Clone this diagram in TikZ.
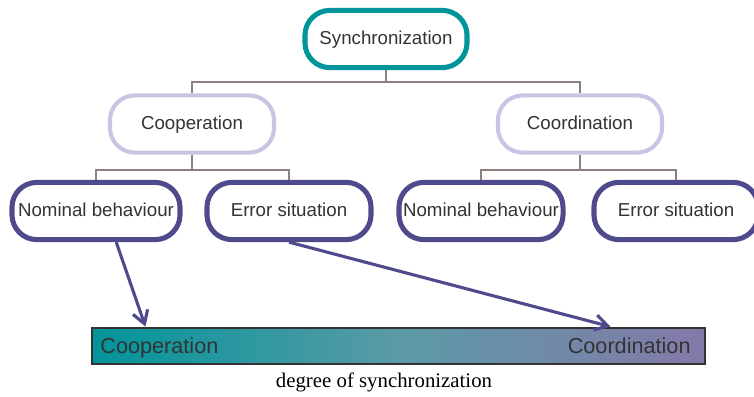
\documentclass[tikz,border=0pt]{standalone}
\usepackage{fontspec}
\setmainfont{Liberation Serif}
\setsansfont{Liberation Sans}
\usepackage{xcolor}
\usepackage{tikz}
\usetikzlibrary{arrows.meta,calc,positioning}
\definecolor{synccol}{HTML}{00959A}
\definecolor{kindcol}{HTML}{C9C5E2}
\definecolor{casecol}{HTML}{4E4A8C}
\definecolor{branchcol}{HTML}{8E807C}
\definecolor{labelcol}{HTML}{333333}
\definecolor{barmid}{HTML}{5B9AA6}
\definecolor{barright}{HTML}{8579A9}

\begin{document}
\begin{tikzpicture}[
    x=0.025cm, y=-0.025cm,
    pill/.style={
        rectangle, rounded corners=0.62cm, fill=white,
        text=labelcol, font=\sffamily\fontsize{13.3}{16}\selectfont,
        text height=0.95em, text depth=0.11em,
        minimum height=1.43cm, inner sep=0},
    top/.style={pill, draw=synccol, line width=3.6pt, minimum width=4.05cm},
    kind/.style={pill, draw=kindcol, line width=2.9pt, minimum width=4.1cm},
    case/.style={pill, draw=casecol, line width=3.6pt, minimum width=4.1cm},
    branch/.style={draw=branchcol, line width=1.4pt},
    barlabel/.style={text=labelcol, font=\sffamily\fontsize{15.4}{18}\selectfont},
    pointer/.style={draw=casecol, line width=2.2pt, -{Straight Barb[length=9pt,width=11pt,line width=2.2pt]}}]
\useasboundingbox (0,0) rectangle (754,396);

% tree
\node[top]  (sync) at (386,39)  {Synchronization};
\node[kind] (coop) at (192,124) {Cooperation};
\node[kind] (coor) at (580,124) {Coordination};
\node[case, minimum width=4.2cm] (nomcoop) at (96,211)  {Nominal behaviour};
\node[case] (errcoop) at (289,211) {Error situation};
\node[case] (nomcoor) at (481,211) {Nominal behaviour};
\node[case] (errcoor) at (676,211) {Error situation};

\path[branch] (sync.south) -- ++(0,12) -| (coop.north);
\path[branch] (sync.south) -- ++(0,12) -| (coor.north);
\path[branch] (coop.south) -- ++(0,15) -| (nomcoop.north);
\path[branch] (coop.south) -- ++(0,15) -| (errcoop.north);
\path[branch] (coor.south) -- ++(0,15) -| (nomcoor.north);
\path[branch] (coor.south) -- ++(0,15) -| (errcoor.north);

% scale
\node[draw=labelcol, line width=1.4pt, left color=synccol, right color=barright, middle color=barmid,
      minimum width=15.3cm, minimum height=0.92cm, inner sep=0] (bar) at (398.5,346) {};
\node[barlabel, anchor=base west] (coopend) at ($(bar.west)+(4,7)$) {Cooperation};
\node[barlabel, anchor=base east] (coorend) at ($(bar.east)+(-10,7)$) {Coordination};
\node[font=\fontsize{14.8}{17}\selectfont] (degree) at (384,382) {degree of synchronization};

\coordinate (tocoop) at ($(bar.north west)+(54,0)$);
\coordinate (tocoor) at ($(bar.north west)+(519,0)$);
\path[pointer] (nomcoop.-57) -- (tocoop);
\path[pointer] (errcoop.south) -- (tocoor);

\end{tikzpicture}
\end{document}
